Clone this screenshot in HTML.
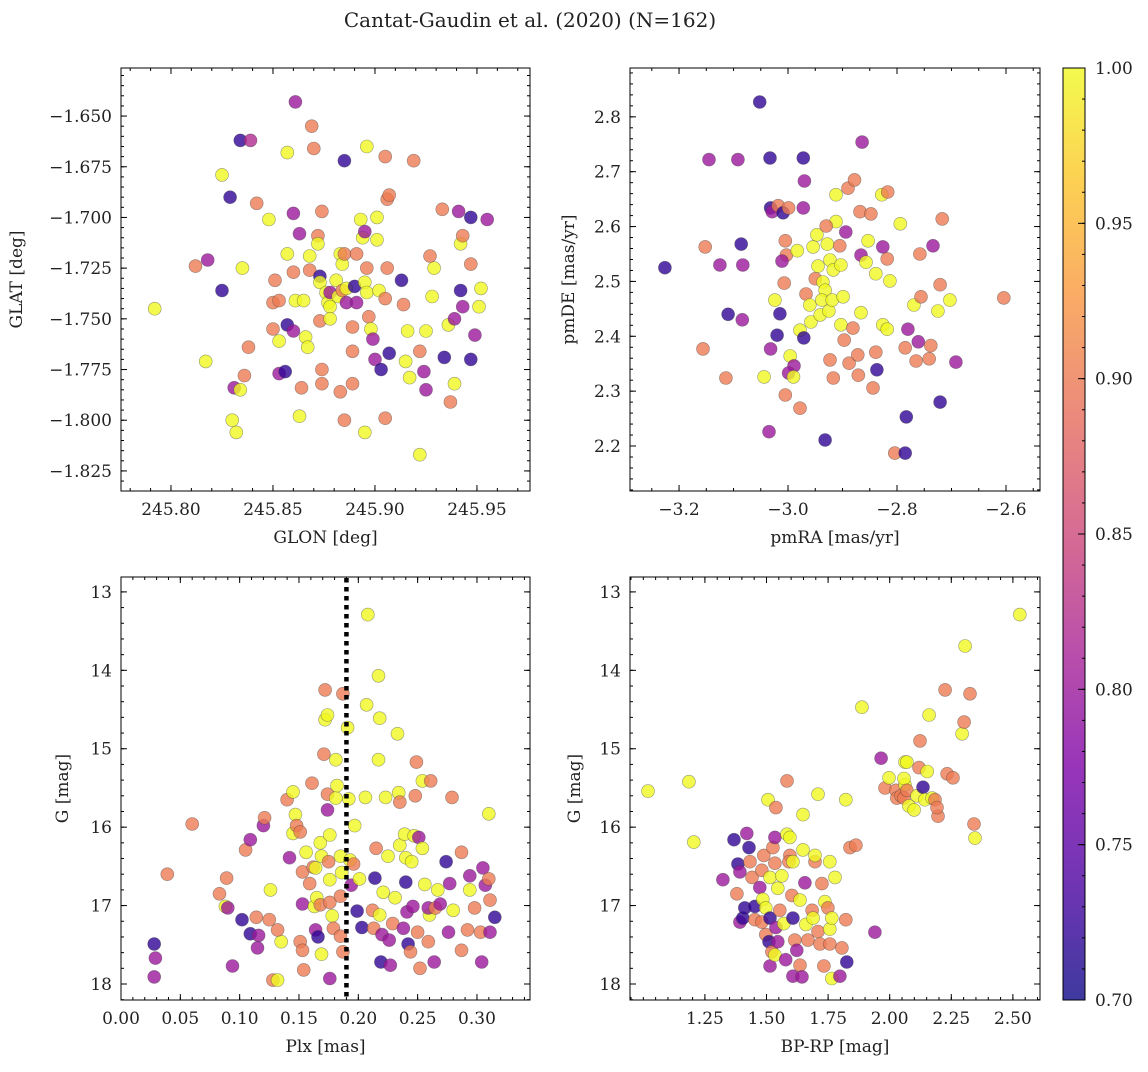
<!DOCTYPE html>
<html><head><meta charset="utf-8">
<style>
body{margin:0;background:#fff;}
svg text{font-family:"DejaVu Serif","Liberation Serif",serif;fill:#222;}
</style></head>
<body>
<svg id="fig" width="1148" height="1067" viewBox="0 0 1148 1067" xmlns="http://www.w3.org/2000/svg">
<defs>
<linearGradient id="plasma" x1="0" y1="1" x2="0" y2="0">
<stop offset="0" stop-color="#0d0887"/><stop offset="0.125" stop-color="#4c02a1"/>
<stop offset="0.25" stop-color="#7e03a8"/><stop offset="0.375" stop-color="#a92395"/>
<stop offset="0.5" stop-color="#cc4778"/><stop offset="0.625" stop-color="#e66c5c"/>
<stop offset="0.75" stop-color="#f89540"/><stop offset="0.875" stop-color="#fdc328"/>
<stop offset="1" stop-color="#f0f921"/>
</linearGradient>
</defs>
<text x="530" y="27" font-size="20" text-anchor="middle">Cantat-Gaudin et al. (2020) (N=162)</text>
</svg>
<script>
const glonGlat=[[245.792,-1.745,1],[245.812,-1.724,.9],[245.818,-1.721,.8],[245.825,-1.679,1],[245.817,-1.771,1],[245.825,-1.736,.72],[245.829,-1.690,.72],[245.834,-1.662,.72],[245.839,-1.662,.82],[245.835,-1.725,1],[245.838,-1.764,.9],[245.836,-1.778,.9],[245.831,-1.784,.8],[245.834,-1.785,1],[245.830,-1.800,1],[245.832,-1.806,1],[245.842,-1.693,.9],[245.848,-1.701,1],[245.851,-1.731,.9],[245.850,-1.742,.9],[245.850,-1.755,.9],[245.853,-1.761,1],[245.853,-1.741,.9],[245.857,-1.753,.72],[245.860,-1.756,.8],[245.853,-1.777,.8],[245.856,-1.776,.72],[245.857,-1.668,1],[245.857,-1.718,1],[245.860,-1.698,.8],[245.861,-1.643,.8],[245.863,-1.708,.8],[245.861,-1.741,1],[245.860,-1.727,.9],[245.863,-1.798,1],[245.864,-1.784,.9],[245.865,-1.741,1],[245.866,-1.759,1],[245.867,-1.764,1],[245.868,-1.726,.9],[245.868,-1.719,1],[245.869,-1.655,.9],[245.870,-1.666,.9],[245.872,-1.709,.9],[245.872,-1.713,1],[245.873,-1.729,.72],[245.873,-1.732,1],[245.874,-1.697,.9],[245.873,-1.751,.9],[245.874,-1.782,.9],[245.874,-1.775,.9],[245.876,-1.737,1],[245.877,-1.742,1],[245.878,-1.737,.8],[245.878,-1.744,1],[245.878,-1.750,1],[245.881,-1.731,1],[245.882,-1.739,1],[245.883,-1.718,1],[245.884,-1.723,1],[245.884,-1.736,.9],[245.886,-1.735,1],[245.886,-1.742,.8],[245.885,-1.672,.72],[245.885,-1.718,.9],[245.889,-1.754,.9],[245.889,-1.766,.9],[245.889,-1.782,.9],[245.883,-1.786,.9],[245.885,-1.800,.9],[245.890,-1.734,.72],[245.891,-1.742,.8],[245.891,-1.718,.9],[245.893,-1.701,1],[245.894,-1.710,1],[245.895,-1.806,1],[245.896,-1.665,1],[245.895,-1.707,.8],[245.896,-1.725,.9],[245.895,-1.732,1],[245.896,-1.737,1],[245.897,-1.749,.9],[245.898,-1.755,1],[245.899,-1.760,.8],[245.900,-1.770,.8],[245.901,-1.700,1],[245.901,-1.711,1],[245.902,-1.736,1],[245.903,-1.775,.72],[245.905,-1.670,.9],[245.906,-1.691,.9],[245.906,-1.725,.9],[245.905,-1.740,.9],[245.905,-1.799,.9],[245.907,-1.767,.72],[245.913,-1.731,.72],[245.914,-1.743,.9],[245.916,-1.756,1],[245.917,-1.779,1],[245.915,-1.771,1],[245.922,-1.766,.9],[245.922,-1.817,1],[245.924,-1.776,.8],[245.925,-1.756,1],[245.925,-1.785,.8],[245.928,-1.739,1],[245.929,-1.725,1],[245.927,-1.719,.9],[245.933,-1.696,.9],[245.934,-1.769,.72],[245.936,-1.753,1],[245.939,-1.782,1],[245.939,-1.750,.8],[245.942,-1.713,1],[245.943,-1.709,.9],[245.947,-1.700,.72],[245.955,-1.701,.8],[245.947,-1.723,.9],[245.942,-1.736,.72],[245.943,-1.744,.8],[245.951,-1.744,1],[245.952,-1.735,1],[245.947,-1.770,.72],[245.949,-1.758,.8],[245.937,-1.791,.9],[245.919,-1.672,.9],[245.907,-1.689,.9],[245.941,-1.697,.8]];
const pmRaDe=[[-3.226,2.525,.72],[-3.152,2.563,.9],[-3.156,2.377,.9],[-3.092,2.722,.8],[-3.086,2.568,.72],[-3.083,2.530,.8],[-3.084,2.430,.8],[-3.114,2.324,.9],[-3.052,2.827,.72],[-3.033,2.725,.72],[-3.032,2.634,.72],[-3.029,2.627,.8],[-3.018,2.638,.9],[-3.015,2.441,.72],[-3.020,2.402,.72],[-3.024,2.466,1],[-3.032,2.377,.8],[-3.035,2.226,.8],[-3.044,2.326,1],[-3.005,2.574,.9],[-3.003,2.548,.9],[-3.011,2.537,.8],[-3.007,2.497,.9],[-3.009,2.625,.72],[-2.999,2.634,.9],[-2.983,2.556,1],[-2.972,2.634,.8],[-2.972,2.725,.72],[-2.970,2.683,.8],[-2.996,2.364,1],[-2.989,2.346,.8],[-2.999,2.333,.8],[-2.990,2.326,1],[-2.978,2.269,.9],[-3.005,2.293,.9],[-2.978,2.411,1],[-2.971,2.397,.72],[-2.967,2.477,.9],[-2.960,2.457,1],[-2.958,2.426,1],[-2.954,2.563,1],[-2.947,2.585,1],[-2.950,2.505,.9],[-2.945,2.528,1],[-2.936,2.499,1],[-2.932,2.484,1],[-2.923,2.539,1],[-2.938,2.466,1],[-2.941,2.439,1],[-2.925,2.446,1],[-2.919,2.466,1],[-2.917,2.521,1],[-2.912,2.609,1],[-2.912,2.658,1],[-2.930,2.601,.9],[-2.928,2.568,1],[-2.905,2.565,.9],[-2.903,2.530,1],[-2.899,2.472,1],[-2.897,2.393,.9],[-2.917,2.324,.9],[-2.932,2.211,.72],[-2.923,2.357,.9],[-2.903,2.421,1],[-2.888,2.351,.9],[-2.881,2.415,.9],[-2.872,2.366,.9],[-2.871,2.329,.9],[-2.866,2.443,1],[-2.894,2.590,.8],[-2.890,2.670,.9],[-2.878,2.685,.9],[-2.864,2.754,.8],[-2.868,2.627,.9],[-2.866,2.548,.8],[-2.857,2.535,1],[-2.853,2.574,1],[-2.839,2.514,1],[-2.848,2.623,.9],[-2.828,2.658,1],[-2.817,2.663,.9],[-2.826,2.563,.8],[-2.826,2.421,1],[-2.818,2.413,1],[-2.818,2.541,.9],[-2.839,2.371,.9],[-2.837,2.339,.72],[-2.844,2.306,.9],[-2.813,2.501,1],[-2.794,2.605,1],[-2.785,2.379,.9],[-2.804,2.187,.9],[-2.785,2.187,.72],[-2.783,2.253,.72],[-2.780,2.413,.8],[-2.769,2.457,1],[-2.761,2.390,.8],[-2.756,2.472,.9],[-2.758,2.550,.9],[-2.765,2.355,.9],[-2.741,2.359,.9],[-2.738,2.383,.9],[-2.734,2.565,.8],[-2.725,2.446,1],[-2.721,2.494,.9],[-2.717,2.614,.9],[-2.721,2.280,.72],[-2.703,2.466,1],[-2.692,2.353,.8],[-2.604,2.470,.9],[-3.125,2.530,.8],[-3.145,2.722,.8],[-3.110,2.440,.72]];
const plxG=[[.028,17.49,.72],[.029,17.67,.8],[.028,17.91,.8],[.039,16.60,.9],[.060,15.96,.9],[.083,16.85,.9],[.089,16.65,.9],[.088,17.01,1],[.090,17.03,.8],[.094,17.77,.8],[.102,17.18,.72],[.105,16.29,.9],[.109,16.16,.8],[.109,17.36,.72],[.116,17.38,.8],[.115,17.54,.8],[.114,17.15,.9],[.120,15.98,.8],[.121,15.88,.9],[.126,16.80,1],[.125,17.18,.9],[.128,17.95,.9],[.132,17.95,1],[.135,17.46,1],[.132,17.31,.9],[.140,15.65,.9],[.142,16.39,.8],[.145,16.08,1],[.145,15.55,1],[.147,15.84,1],[.148,15.98,.9],[.151,16.06,.9],[.153,16.57,.9],[.153,16.98,.8],[.151,17.46,.9],[.153,17.57,.9],[.154,17.82,.9],[.156,16.32,1],[.159,16.72,.9],[.162,16.51,.9],[.161,15.44,.9],[.163,17.01,1],[.164,16.52,1],[.164,17.31,.8],[.166,17.40,.72],[.165,16.90,1],[.168,16.99,.9],[.168,16.20,1],[.169,16.37,1],[.169,17.62,1],[.171,15.07,.9],[.172,14.25,.9],[.172,14.63,1],[.174,14.57,1],[.174,15.58,.9],[.174,15.78,.8],[.176,16.10,1],[.175,16.44,.9],[.176,16.67,1],[.176,16.96,.9],[.178,17.13,1],[.179,17.29,.9],[.176,17.93,.8],[.181,15.14,1],[.181,15.63,1],[.182,15.47,1],[.185,16.37,1],[.186,16.58,1],[.185,16.88,.9],[.185,17.39,.9],[.187,17.59,.9],[.187,14.30,.9],[.191,14.73,1],[.192,15.64,1],[.193,16.42,1],[.194,16.74,.8],[.196,16.47,.9],[.197,15.98,1],[.199,17.07,.72],[.201,16.66,1],[.203,17.28,.72],[.208,13.29,1],[.207,14.44,1],[.206,15.62,1],[.212,17.06,.9],[.214,16.65,.72],[.213,17.29,.9],[.215,16.27,.9],[.217,14.07,1],[.218,14.61,1],[.217,15.14,1],[.218,17.12,1],[.219,17.72,.72],[.220,17.37,.8],[.221,16.83,1],[.223,15.62,1],[.225,16.37,1],[.226,17.44,.8],[.227,17.76,.8],[.229,17.23,.9],[.231,16.90,1],[.233,14.81,1],[.234,15.56,1],[.235,15.68,.9],[.235,16.23,1],[.238,17.29,.8],[.239,16.09,1],[.240,16.39,1],[.240,16.70,.72],[.241,17.08,.8],[.242,17.49,.72],[.244,17.59,.9],[.245,16.44,1],[.246,17.01,.8],[.247,16.11,1],[.249,15.17,.9],[.248,15.60,.9],[.250,17.34,.9],[.252,17.80,.9],[.251,16.13,.8],[.254,15.41,1],[.254,16.27,1],[.256,16.73,1],[.259,17.46,.9],[.260,17.12,1],[.259,17.03,.8],[.261,15.41,.9],[.265,17.03,.9],[.264,17.72,.8],[.267,16.80,1],[.269,16.98,.8],[.274,16.44,.72],[.276,17.34,.8],[.277,16.72,.8],[.279,15.62,.9],[.280,17.06,1],[.287,16.32,.9],[.287,17.57,.9],[.292,17.31,.9],[.294,16.62,.8],[.294,16.80,1],[.298,17.03,.9],[.303,17.34,.9],[.305,16.52,.8],[.307,16.74,.8],[.310,15.83,1],[.310,16.66,.9],[.311,17.34,.8],[.311,16.93,.9],[.315,17.15,.72],[.304,17.72,.8]];
const colorG=[[1.019,15.54,1],[1.185,15.42,1],[1.205,16.19,1],[1.323,16.67,.8],[1.368,16.16,.72],[1.384,16.47,.72],[1.392,16.57,.8],[1.380,16.85,.9],[1.392,17.21,.8],[1.404,17.16,.72],[1.412,17.03,.72],[1.420,16.08,.8],[1.429,16.26,.72],[1.433,16.44,.9],[1.441,16.64,.9],[1.453,17.01,.72],[1.453,17.18,.9],[1.473,16.77,.8],[1.481,16.55,.9],[1.481,17.21,.9],[1.489,16.36,.9],[1.485,16.92,1],[1.497,17.03,1],[1.497,17.37,.9],[1.506,15.65,1],[1.514,16.64,1],[1.514,17.16,.72],[1.510,17.46,.72],[1.514,17.77,.8],[1.522,17.59,.9],[1.526,16.26,.9],[1.534,16.13,.8],[1.534,16.46,.9],[1.538,15.75,.9],[1.546,16.78,1],[1.538,17.28,.8],[1.546,17.46,.8],[1.534,17.63,1],[1.554,17.06,.9],[1.562,16.62,1],[1.570,17.23,1],[1.578,17.69,.8],[1.583,15.41,.9],[1.583,16.09,1],[1.595,16.13,1],[1.595,16.36,.9],[1.591,16.44,.9],[1.607,16.44,1],[1.603,16.87,.9],[1.607,17.16,.72],[1.615,17.44,.9],[1.607,17.90,.8],[1.623,17.57,.8],[1.636,16.93,1],[1.636,17.76,.9],[1.644,17.91,.8],[1.648,15.84,1],[1.648,16.29,1],[1.656,16.71,.8],[1.660,17.24,1],[1.668,17.44,.9],[1.685,17.06,.9],[1.689,17.16,1],[1.697,16.44,.9],[1.697,16.36,1],[1.709,15.58,1],[1.709,17.33,.9],[1.717,17.49,.9],[1.725,16.72,.9],[1.733,17.77,.9],[1.737,16.95,1],[1.749,17.03,.9],[1.757,17.49,.9],[1.757,16.44,1],[1.757,17.30,1],[1.765,17.93,1],[1.765,17.16,1],[1.778,16.64,1],[1.798,17.90,.8],[1.806,17.54,.9],[1.822,17.18,.9],[1.826,17.72,.72],[1.822,15.65,1],[1.839,16.26,.9],[1.863,16.23,.9],[1.887,14.47,1],[1.940,17.34,.8],[1.965,15.12,.8],[1.981,15.50,.9],[1.997,15.37,1],[2.025,15.53,.9],[2.029,15.63,.9],[2.046,15.60,.9],[2.058,15.63,.9],[2.062,15.17,1],[2.070,15.17,1],[2.062,15.46,1],[2.058,15.38,1],[2.070,15.53,.9],[2.078,15.73,1],[2.099,15.78,1],[2.111,15.60,1],[2.119,15.24,.9],[2.123,14.90,.9],[2.135,15.49,.72],[2.143,15.65,1],[2.152,15.29,1],[2.160,14.57,1],[2.172,15.63,1],[2.184,15.65,.9],[2.196,15.86,.9],[2.192,15.75,.9],[2.225,14.25,.9],[2.233,15.32,.9],[2.257,15.37,.9],[2.294,14.81,1],[2.302,14.66,.9],[2.306,13.69,1],[2.326,14.30,.9],[2.342,15.96,.9],[2.346,16.14,1],[2.528,13.29,1]];
const tlXTicks=[245.80,245.85,245.90,245.95];
const tlYTicks=[-1.650,-1.675,-1.700,-1.725,-1.750,-1.775,-1.800,-1.825];
const trXTicks=[-3.2,-3.0,-2.8,-2.6];
const trYTicks=[2.2,2.3,2.4,2.5,2.6,2.7,2.8];
const blXTicks=[0,0.05,0.10,0.15,0.20,0.25,0.30];
const gTicks=[13,14,15,16,17,18];
const brXTicks=[1.25,1.50,1.75,2.00,2.25,2.50];
const cbTicks=[0.70,0.75,0.80,0.85,0.90,0.95,1.00];
const plxCut=0.19;

const NS="http://www.w3.org/2000/svg";
const fig=document.getElementById('fig');
function mk(tag,attrs,parent){const e=document.createElementNS(NS,tag);for(const k in attrs)e.setAttribute(k,attrs[k]);(parent||fig).appendChild(e);return e;}
const stops=[[0,[13,8,135]],[.125,[76,2,161]],[.25,[126,3,168]],[.375,[169,35,149]],[.5,[204,71,120]],[.625,[230,108,92]],[.75,[248,149,64]],[.875,[253,195,40]],[1,[240,249,33]]];
function cmap(p){let t=Math.max(0,Math.min(1,(p-0.7)/0.3));for(let i=1;i<stops.length;i++){if(t<=stops[i][0]){const a=stops[i-1],b=stops[i],f=(t-a[0])/(b[0]-a[0]);return 'rgb('+a[1].map((v,j)=>Math.round(v+(b[1][j]-v)*f)).join(',')+')';}}return 'rgb(240,249,33)';}

function panel(name,box,xd,yd,xt,yt,xMinor,yMinor,xfmt,yfmt,xlabel,ylabel,data){
  const [L,T,R,B]=box;
  const sx=v=>L+(v-xd[0])/(xd[1]-xd[0])*(R-L);
  const sy=v=>B-(v-yd[0])/(yd[1]-yd[0])*(B-T);
  const g=mk('g',{});
  
  
  const pts=mk('g',{},g);
  
  
  data.forEach(d=>{const c=mk('circle',{cx:sx(d[0]).toFixed(1),cy:sy(d[1]).toFixed(1),r:6.5,fill:cmap(d[2]),'fill-opacity':0.8,stroke:'rgba(60,60,60,0.5)','stroke-width':0.6},pts);
    
    });
  const fr=mk('rect',{x:L,y:T,width:R-L,height:B-T,fill:'none',stroke:'#000','stroke-width':1},g);
  
  
  const lo=Math.min(xd[0],xd[1]),hi=Math.max(xd[0],xd[1]);
  for(let v=Math.ceil(lo/xMinor-1e-6)*xMinor;v<=hi+1e-9;v+=xMinor){const x=sx(v);mk('line',{x1:x,x2:x,y1:B,y2:B-3,stroke:'#000'},g);mk('line',{x1:x,x2:x,y1:T,y2:T+3,stroke:'#000'},g);}
  const ylo=Math.min(yd[0],yd[1]),yhi=Math.max(yd[0],yd[1]);
  for(let v=Math.ceil(ylo/yMinor-1e-6)*yMinor;v<=yhi+1e-9;v+=yMinor){const y=sy(v);mk('line',{y1:y,y2:y,x1:L,x2:L+3,stroke:'#000'},g);mk('line',{y1:y,y2:y,x1:R,x2:R-3,stroke:'#000'},g);}
  xt.forEach(v=>{const x=sx(v);mk('line',{x1:x,x2:x,y1:B,y2:B-6,stroke:'#000'},g);mk('line',{x1:x,x2:x,y1:T,y2:T+6,stroke:'#000'},g);
    const t=mk('text',{x:x,y:B+24,'font-size':17,'text-anchor':'middle'},g);t.textContent=xfmt(v);
    
    });
  yt.forEach(v=>{const y=sy(v);mk('line',{y1:y,y2:y,x1:L,x2:L+6,stroke:'#000'},g);mk('line',{y1:y,y2:y,x1:R,x2:R-6,stroke:'#000'},g);
    const t=mk('text',{x:L-9,y:y+6,'font-size':17,'text-anchor':'end'},g);t.textContent=yfmt(v);
    
    });
  const xl=mk('text',{x:(L+R)/2,y:B+52,'font-size':17,'text-anchor':'middle'},g);xl.textContent=xlabel;
  
  
  const ylx=name==='glon-glat'?22:(name==='plx-g'?68:(name==='pm'?574:580));
  const yl=mk('text',{x:ylx,y:(T+B)/2,'font-size':17,'text-anchor':'middle',transform:'rotate(-90 '+ylx+' '+((T+B)/2)+')'},g);yl.textContent=ylabel;
  
  
  return {sx,sy,g};
}
const m=s=>s.replace('-','\u2212');
panel('glon-glat',[121,68,530,491],[245.7755,245.976],[-1.8349,-1.6263],tlXTicks,tlYTicks,0.01,0.005,v=>v.toFixed(2),v=>m(v.toFixed(3)),'GLON [deg]','GLAT [deg]',glonGlat);
panel('pm',[630,68,1040,491],[-3.290,-2.5376],[2.118,2.889],trXTicks,trYTicks,0.05,0.02,v=>m(v.toFixed(1)),v=>v.toFixed(1),'pmRA [mas/yr]','pmDE [mas/yr]',pmRaDe);
const bl=panel('plx-g',[121,577,530,1000],[0,0.3447],[18.204,12.81],blXTicks,gTicks,0.01,0.2,v=>v.toFixed(2),v=>String(v),'Plx [mas]','G [mag]',plxG);
const cut=mk('line',{x1:bl.sx(plxCut),x2:bl.sx(plxCut),y1:578,y2:999,stroke:'#000','stroke-width':4.5,'stroke-dasharray':'4.5 4.5'});


panel('color-g',[630,577,1040,1000],[0.946,2.61],[18.204,12.81],brXTicks,gTicks,0.05,0.2,v=>v.toFixed(2),v=>String(v),'BP-RP [mag]','G [mag]',colorG);

const cb=mk('g',{});


mk('rect',{x:1063,y:68,width:22,height:932,fill:'url(#plasma)','fill-opacity':0.8},cb);
mk('rect',{x:1063,y:68,width:22,height:932,fill:'none',stroke:'#000'},cb);
const cy=v=>1000-(v-0.7)/0.3*932;
for(let v=0.70;v<=1.0001;v+=0.01){mk('line',{x1:1085,x2:1082,y1:cy(v),y2:cy(v),stroke:'#000'},cb);}
cbTicks.forEach(v=>{mk('line',{x1:1085,x2:1078,y1:cy(v),y2:cy(v),stroke:'#000'},cb);
  const t=mk('text',{x:1095,y:cy(v)+6,'font-size':17},cb);t.textContent=v.toFixed(2);
  
  });
</script>
</body></html>
